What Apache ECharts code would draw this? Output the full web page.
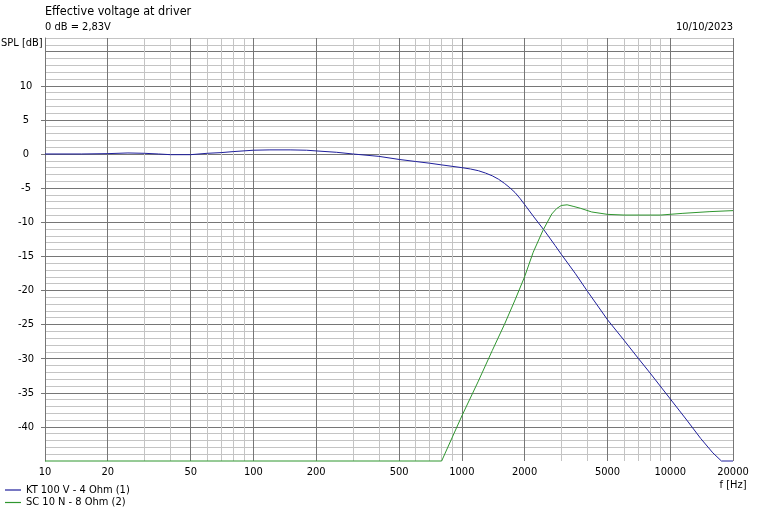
<!DOCTYPE html>
<html>
<head>
<meta charset="utf-8">
<script src="https://cdn.jsdelivr.net/npm/echarts@6/dist/echarts.min.js"></script>
<style>
html,body{margin:0;padding:0;background:#fff;}
#c{width:771px;height:519px;}
</style>
</head>
<body>
<div id="c"></div>
<script>
// ---- data ----
const freqKT = [10, 15, 20, 25, 30, 35, 40, 50, 60, 70, 80, 100, 120, 150, 180, 200, 250, 300, 400, 500, 600, 700, 800, 1000, 1100, 1200, 1300, 1400, 1500, 1600, 1700, 1800, 1900, 2000, 2200, 2500, 2800, 3000, 3500, 4000, 5000, 6000, 7000, 8000, 10000, 12000, 14000, 16000, 17600, 20000];
const splKT  = [0, 0, 0.05, 0.15, 0.1, 0, -0.1, -0.1, 0.1, 0.2, 0.35, 0.55, 0.6, 0.6, 0.55, 0.45, 0.25, 0.0, -0.35, -0.8, -1.1, -1.35, -1.6, -2.0, -2.2, -2.45, -2.8, -3.2, -3.7, -4.3, -4.95, -5.65, -6.5, -7.4, -9.1, -11.3, -13.4, -14.7, -17.5, -20.1, -24.3, -27.3, -29.9, -32.1, -35.9, -39.0, -41.7, -43.8, -45, -45];

const freqSC = [10, 800, 1000, 1200, 1400, 1600, 1800, 2000, 2200, 2450, 2700, 2850, 3000, 3200, 3450, 3700, 4200, 5000, 6000, 9000, 11500, 15500, 20000];
const splSC  = [-45, -45, -38.4, -33.3, -28.8, -25.0, -21.4, -18.0, -14.4, -11.2, -8.8, -8.0, -7.55, -7.45, -7.7, -7.95, -8.5, -8.85, -8.95, -8.95, -8.7, -8.45, -8.3];

const seriesNames = ['KT 100 V - 4 Ohm (1)', 'SC 10 N - 8 Ohm (2)'];
const seriesColors = ['#1f1f9c', '#2f962f'];

const freqLabels = [10, 20, 50, 100, 200, 500, 1000, 2000, 5000, 10000, 20000];
const freqGridLines = [10, 20, 30, 40, 50, 60, 70, 80, 90,
  100, 200, 300, 400, 500, 600, 700, 800, 900,
  1000, 2000, 3000, 4000, 5000, 6000, 7000, 8000, 9000,
  10000, 20000];
const splLabels = [-40, -35, -30, -25, -20, -15, -10, -5, 0, 5, 10];
const splMajorLines = [-40, -35, -30, -25, -20, -15, -10, -5, 0, 5, 10, 15];

const FONT = "'DejaVu Sans Condensed', 'Liberation Sans', sans-serif";
const MAJOR = '#767676';
const MINOR = '#c4c4c4';

const chart = echarts.init(document.getElementById('c'), null, {renderer: 'canvas'});

const xCommon = {type: 'log', logBase: 10, min: 10, max: 20000, position: 'bottom', gridIndex: 0};
const yCommon = {type: 'value', min: -45, max: 17, position: 'left', gridIndex: 0};

const option = {
  animation: false,
  backgroundColor: '#fff',
  grid: {left: 45, right: 38, top: 38, bottom: 58, containLabel: false},
  graphic: [
    {type: 'text', x: 45, y: 12, style: {text: 'Effective voltage at driver', fontSize: 12.5, fontFamily: FONT, fill: '#000', align: 'left', verticalAlign: 'middle'}},
    {type: 'text', x: 45, y: 27, style: {text: '0 dB = 2,83V', fontSize: 11, fontFamily: FONT, fill: '#000', align: 'left', verticalAlign: 'middle'}},
    {type: 'text', x: 733, y: 27, style: {text: '10/10/2023', fontSize: 11, fontFamily: FONT, fill: '#000', align: 'right', verticalAlign: 'middle'}},
    {type: 'text', x: 1, y: 43, style: {text: 'SPL [dB]', fontSize: 11, fontFamily: FONT, fill: '#000', align: 'left', verticalAlign: 'middle'}},
    {type: 'text', x: 733, y: 485, style: {text: 'f [Hz]', fontSize: 11, fontFamily: FONT, fill: '#000', align: 'center', verticalAlign: 'middle'}}
  ],
  legend: {
    orient: 'vertical', left: 5, top: 484,
    itemWidth: 16, itemHeight: 1.2, itemGap: 0.5, icon: 'rect',
    padding: 0,
    textStyle: {fontSize: 11, fontFamily: FONT, color: '#000', lineHeight: 12},
    data: seriesNames
  },
  xAxis: [
    Object.assign({}, xCommon, {
      axisLine: {show: false}, axisTick: {show: false, customValues: freqGridLines},
      axisLabel: {show: false},
      splitLine: {show: true, lineStyle: {color: MINOR, width: 1}}
    }),
    Object.assign({}, xCommon, {
      axisLine: {show: false},
      axisTick: {show: true, length: 4, inside: false, customValues: freqLabels, lineStyle: {color: MAJOR}},
      axisLabel: {show: true, customValues: freqLabels, margin: 6, fontSize: 11, fontFamily: FONT, color: '#000', formatter: v => String(Math.round(v))},
      splitLine: {show: true, lineStyle: {color: MAJOR, width: 1}}
    })
  ],
  yAxis: [
    Object.assign({}, yCommon, {
      interval: 1,
      axisLine: {show: false}, axisTick: {show: false}, axisLabel: {show: false},
      splitLine: {show: true, showMinLine: false, lineStyle: {color: MINOR, width: 1}}
    }),
    Object.assign({}, yCommon, {
      axisLine: {show: false}, axisTick: {show: false, customValues: splMajorLines}, axisLabel: {show: false},
      splitLine: {show: true, lineStyle: {color: MAJOR, width: 1}}
    }),
    Object.assign({}, yCommon, {
      axisLine: {show: true, onZero: false, lineStyle: {color: MAJOR, width: 1}},
      axisTick: {show: true, length: 4, customValues: splLabels, lineStyle: {color: MAJOR}},
      axisLabel: {show: true, customValues: splLabels, margin: 19, align: 'center', fontSize: 11, fontFamily: FONT, color: '#000'},
      splitLine: {show: false}
    })
  ],
  series: [
    {
      name: seriesNames[0], type: 'line', xAxisIndex: 0, yAxisIndex: 0,
      data: freqKT.map((f, i) => [f, splKT[i]]),
      showSymbol: false, symbol: 'none', clip: false,
      lineStyle: {color: seriesColors[0], width: 1}, itemStyle: {color: seriesColors[0]}
    },
    {
      name: seriesNames[1], type: 'line', xAxisIndex: 0, yAxisIndex: 0,
      data: freqSC.map((f, i) => [f, splSC[i]]),
      showSymbol: false, symbol: 'none', clip: false,
      lineStyle: {color: seriesColors[1], width: 1}, itemStyle: {color: seriesColors[1]}
    }
  ]
};
chart.setOption(option);
</script>
</body>
</html>
